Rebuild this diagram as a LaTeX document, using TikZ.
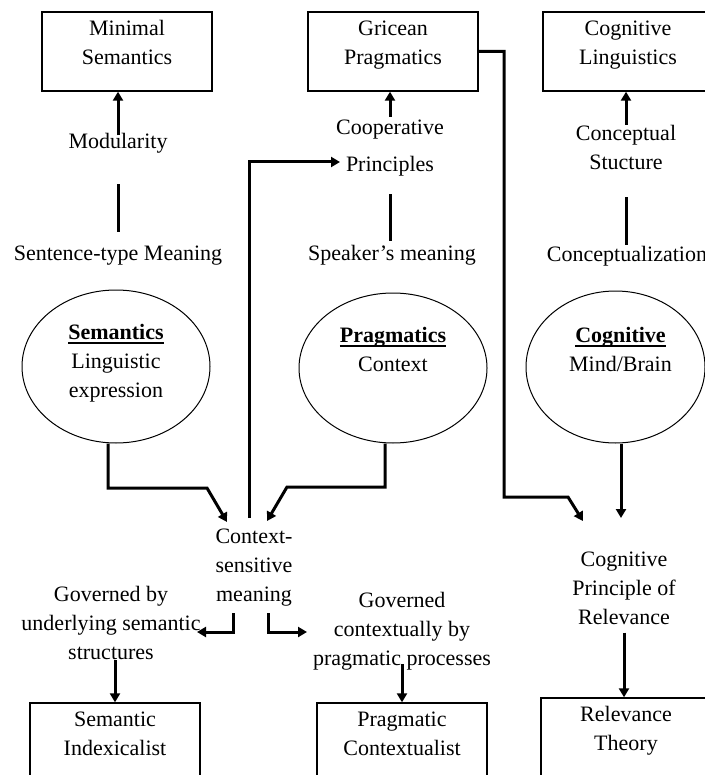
\documentclass[tikz,border=0pt]{standalone}
\usepackage{fontspec}
\setmainfont{Liberation Serif}
\usepackage{tikz}
\usetikzlibrary{shapes.geometric,arrows.meta,positioning,calc}

\newcommand{\ovalhead}[1]{\setbox0=\hbox{\textbf{#1}}\rlap{\rule[-2.2pt]{\wd0}{0.9pt}}\box0}

\tikzset{
    every node/.style={font=\fontsize{11}{14.5}\selectfont},
    box/.style={draw, rectangle, line width=0.7pt, minimum width=85pt, minimum height=39.5pt, inner sep=0pt},
    boxtext/.style={align=center, anchor=north, inner sep=0pt, yshift=-4.5pt},
    oval/.style={draw, ellipse, line width=0.5pt, inner sep=0pt},
    ovaltext/.style={align=center, anchor=north, inner sep=0pt, yshift=-17pt},
    txt/.style={align=center, inner sep=0pt},
    conn/.style={line width=1.5pt},
    arr/.style={conn, -{Triangle[length=4.5pt,width=5pt]}}
}

\begin{document}
\begin{tikzpicture}[x=0.5pt, y=-0.5pt]
    \useasboundingbox (0,0) rectangle (705,775);
    \clip (0,0) rectangle (705,775);

    % top row of boxes
    \node[box, label={[boxtext]north:Minimal\\Semantics}] (minsem) at (127,51.5) {};
    \node[box, label={[boxtext]north:Gricean\\Pragmatics}] (gricean) at (393,51.5) {};
    \node[box, label={[boxtext]north:Cognitive\\Linguistics}] (coglin) at (628,51.5) {};

    % labels under the boxes
    \node[txt, anchor=base] (modul) at (118,149) {Modularity};
    \node[txt, anchor=base] (senttype) at (118,260) {Sentence-type Meaning};
    \node[txt, anchor=north] (coop) at (390,120) {Cooperative\\[4pt]Principles};
    \node[txt, anchor=base] (speaker) at (392,260) {Speaker’s meaning};
    \node[txt, anchor=north] (concep) at (626,125) {Conceptual\\Stucture};
    \node[txt, anchor=base] (concz) at (627,261) {Conceptualization};

    % the three ovals
    \node[oval, minimum width=94pt, minimum height=76.5pt,
          label={[ovaltext]north:\ovalhead{Semantics}\\Linguistic\\expression}] (sem) at (116,366.5) {};
    \node[oval, minimum width=94pt, minimum height=75pt,
          label={[ovaltext]north:\ovalhead{Pragmatics}\\Context}] (prag) at (393,368) {};
    \node[oval, minimum width=89.5pt, minimum height=76pt,
          label={[ovaltext, xshift=2.5pt, yshift=-1pt]north:\ovalhead{Cognitive}\\Mind/Brain}] (cog) at (615.5,367) {};

    % middle and lower texts
    \node[txt, anchor=north] (ctx) at (254,529) {Context-\\sensitive\\meaning};
    \node[txt, anchor=north] (govsem) at (111,586) {Governed by\\underlying semantic\\structures};
    \node[txt, anchor=north] (govprag) at (402,592) {Governed\\contextually by\\pragmatic processes};
    \node[txt, anchor=north] (cpr) at (624,552) {Cognitive\\Principle of\\Relevance};

    % bottom row of boxes
    \node[box, label={[boxtext]north:Semantic\\Indexicalist}] (semidx) at (115,742.5) {};
    \node[box, label={[boxtext]north:Pragmatic\\Contextualist}] (pragctx) at (402,742.5) {};
    \node[box, label={[boxtext]north:Relevance\\Theory}] (relth) at (626,737.5) {};

    % bends and free ends
    \coordinate (semknee) at (207,488);
    \coordinate (semtip) at (227,522);
    \coordinate (pragknee) at (287,487);
    \coordinate (pragtip) at (267,521);
    \coordinate (coopin) at (340,162);
    \coordinate (grturn) at (504,497);
    \coordinate (grknee) at (568,497);
    \coordinate (grtip) at (583,521);
    \coordinate (cogtip) at (621,518);
    \coordinate (semend) at (197,632);
    \coordinate (pragend) at (307,632);

    % upper columns
    \draw[arr, shorten <=-1pt] (modul.north) -- (modul.north |- minsem.south);
    \draw[conn, shorten <=15pt, shorten >=6.5pt] (modul.south) -- (senttype.north);
    \draw[arr, shorten <=1.5pt] (coop.north) -- (coop.north |- gricean.south);
    \draw[conn, shorten <=8.5pt, shorten >=1.5pt] (coop.south) -- (coop.south |- speaker.north);
    \draw[arr] (concep.north) -- (concep.north |- coglin.south);
    \draw[conn, shorten <=13.5pt] (concep.south) -- (concep.south |- concz.north);

    % ovals into the middle
    \draw[arr] ([xshift=-4pt]sem.south) |- (semknee) -- (semtip);
    \draw[arr] ([xshift=-4pt]prag.south) |- (pragknee) -- (pragtip);
    \draw[arr, shorten <=5.5pt] ([xshift=-2.5pt]ctx.north) |- (coopin);
    \draw[arr] (gricean.east) -| (grturn) -- (grknee) -- (grtip);
    \draw[arr] (cog.south -| cogtip) -- (cogtip);

    % branches and lower arrows
    \draw[arr, shorten <=3pt] ([xshift=-10.5pt]ctx.south) |- (semend);
    \draw[arr, shorten <=3pt] ([xshift=7pt]ctx.south) |- (pragend);
    \draw[arr] (semidx.north |- govsem.south) -- (semidx.north);
    \draw[arr, shorten <=-3.5pt] (pragctx.north |- govprag.south) -- (pragctx.north);
    \draw[arr, shorten <=3.5pt] (cpr.south) -- (cpr.south |- relth.north);
\end{tikzpicture}
\end{document}
